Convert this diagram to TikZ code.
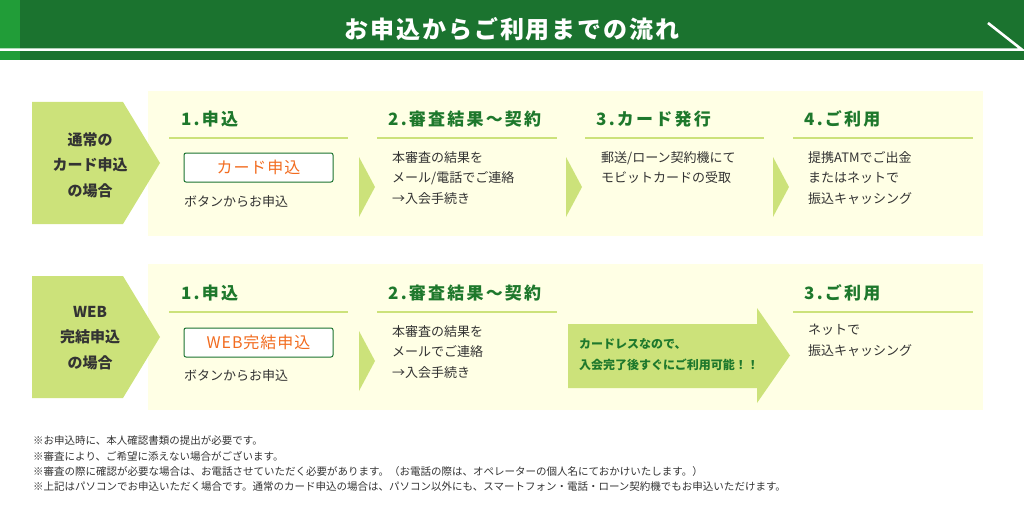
\documentclass[tikz,border=0pt]{standalone}
\usepackage{fontspec}
\setmainfont{Noto Sans CJK JP}
\usetikzlibrary{positioning}

\definecolor{hdgreen}{RGB}{27,115,47}
\definecolor{stripgreen}{RGB}{33,157,56}
\definecolor{leaf}{RGB}{204,226,122}
\definecolor{cream}{RGB}{255,255,229}
\definecolor{headtxt}{RGB}{30,120,44}
\definecolor{btnorange}{RGB}{242,108,32}
\definecolor{bodytxt}{RGB}{51,51,51}

\tikzset{
  steptitle/.style={anchor=west,text=headtxt,inner sep=0pt,
    font=\fontsize{17}{17}\selectfont\bfseries\addfontfeature{LetterSpace=13}},
  stepline/.style={leaf,line width=2.5pt},
  bodytext/.style={anchor=north west,text=bodytxt,align=left,inner sep=0pt,
    font=\fontsize{13}{20.5}\selectfont},
  casetext/.style={text=bodytxt,align=center,inner sep=0pt,
    font=\fontsize{15}{25.5}\selectfont\bfseries},
  applybtn/.style={draw=hdgreen,line width=1pt,rounded corners=2pt,fill=white,
    text=btnorange,inner sep=0pt,minimum width=149pt,minimum height=29pt,
    font=\fontsize{16}{16}\selectfont\addfontfeature{LetterSpace=6}},
  chevron/.style={fill=leaf},
  notetext/.style={anchor=west,text=bodytxt,inner sep=0pt,
    font=\fontsize{10.5}{10.5}\selectfont},
}

\begin{document}
\begin{tikzpicture}[x=1pt,y=-1pt]
	\useasboundingbox (0,0) rectangle (1024,516);
	% header band
	\fill[hdgreen] (0,0) rectangle (1024,60);
	\fill[stripgreen] (0,0) rectangle (20,60);
	\draw[white,line width=2.6pt] (0,49.7) -- (1022,49.7) -- (988,23);
	\node[text=white,font=\fontsize{24}{24}\selectfont\bfseries\addfontfeature{LetterSpace=8}] (title) at (512,29) {お申込からご利用までの流れ};
	
	% panels
	\fill[cream] (148,91) rectangle (983,236);
	\fill[cream] (148,264) rectangle (983,410);
	
	% case labels (pentagons)
	\fill[leaf] (32,102) -- (123,102) -- (160,163) -- (123,224) -- (32,224) -- cycle;
	\fill[leaf] (32,276) -- (123,276) -- (160,337) -- (123,398) -- (32,398) -- cycle;
	\node[casetext] (case1) at (90,165) {通常の\\カード申込\\の場合};
	\node[casetext] (case2) at (90,338) {WEB\\完結申込\\の場合};
	
	% --- row 1: card application ---
	\node[steptitle] (r1s1) at (181,119) {1.申込};
	\node[steptitle] (r1s2) at (388,119) {2.審査結果～契約};
	\node[steptitle] (r1s3) at (596,119) {3.カード発行};
	\node[steptitle] (r1s4) at (804,119) {4.ご利用};
	\draw[stepline] (169,138) -- (348,138);
	\draw[stepline] (377,138) -- (557,138);
	\draw[stepline] (585,138) -- (764,138);
	\draw[stepline] (793,138) -- (973,138);
	
	\node[applybtn] (btn1) at (258.5,167.5) {カード申込};
	\node[bodytext] (r1t1) at (184,195) {ボタンからお申込};
	\node[bodytext] (r1t2) at (392,151) {本審査の結果を\\メール/電話でご連絡\\→入会手続き};
	\node[bodytext] (r1t3) at (601,151) {郵送/ローン契約機にて\\モビットカードの受取};
	\node[bodytext] (r1t4) at (808,151) {提携ATMでご出金\\またはネットで\\振込キャッシング};
	
	\fill[chevron] (359,157) -- (375,187) -- (359,217) -- cycle;
	\fill[chevron] (566,157) -- (582,187) -- (566,217) -- cycle;
	\fill[chevron] (773,157) -- (789,187) -- (773,217) -- cycle;
	
	% --- row 2: web application ---
	\node[steptitle] (r2s1) at (181,293) {1.申込};
	\node[steptitle] (r2s2) at (388,293) {2.審査結果～契約};
	\node[steptitle] (r2s3) at (804,293) {3.ご利用};
	\draw[stepline] (169,312) -- (348,312);
	\draw[stepline] (377,312) -- (557,312);
	\draw[stepline] (793,312) -- (973,312);
	
	\node[applybtn] (btn2) at (258.5,342.5) {WEB完結申込};
	\node[bodytext] (r2t1) at (184,369) {ボタンからお申込};
	\node[bodytext] (r2t2) at (392,325) {本審査の結果を\\メールでご連絡\\→入会手続き};
	\node[bodytext] (r2t3) at (808,324) {ネットで\\振込キャッシング};
	
	\fill[chevron] (359,331) -- (375,361) -- (359,391) -- cycle;
	% big arrow
	\fill[leaf] (568,324) -- (757,324) -- (757,308) -- (790,355.5) -- (757,403)
	-- (757,388) -- (568,388) -- cycle;
	\node[anchor=north west,text=headtxt,align=left,inner sep=0pt,
	font=\fontsize{12}{21}\selectfont\bfseries] (cardless) at (579,338)
	{カードレスなので、\\入会完了後すぐにご利用可能！！};
	
	% notes
	\node[notetext] (n1) at (33,440) {※お申込時に、本人確認書類の提出が必要です。};
	\node[notetext] (n2) at (33,456) {※審査により、ご希望に添えない場合がございます。};
	\node[notetext] (n3) at (33,472) {※審査の際に確認が必要な場合は、お電話させていただく必要があります。（お電話の際は、オペレーターの個人名にておかけいたします。）};
	\node[notetext] (n4) at (33,487) {※上記はパソコンでお申込いただく場合です。通常のカード申込の場合は、パソコン以外にも、スマートフォン・電話・ローン契約機でもお申込いただけます。};
\end{tikzpicture}
\end{document}
